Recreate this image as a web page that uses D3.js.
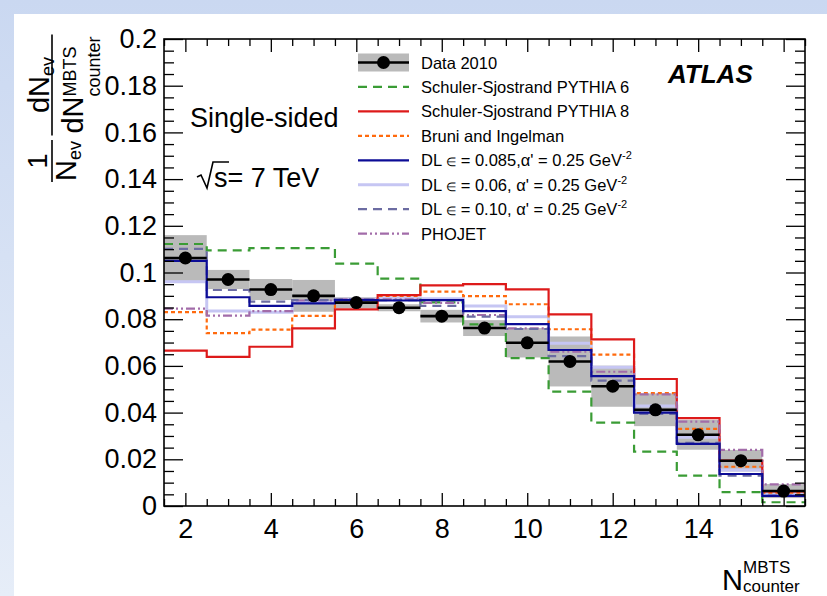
<!DOCTYPE html>
<html>
<head>
<meta charset="utf-8">
<script src="https://cdn.jsdelivr.net/npm/d3@7"></script>
<style>
  body { margin: 0; background: #fff; }
  svg { display: block; font-family: "Liberation Sans", Arial, Helvetica, sans-serif; }
</style>
</head>
<body>
<svg id="chart" width="827" height="596"></svg>
<script>
// MBTS counter multiplicity bins (bin centres, unit width)
const bins = [2, 3, 4, 5, 6, 7, 8, 9, 10, 11, 12, 13, 14, 15, 16];

// Measured distribution and its systematic band (half-height)
const data2010 = [0.1062, 0.0970, 0.0927, 0.0900, 0.0871, 0.0849, 0.0813, 0.0762, 0.0699, 0.0619, 0.0513, 0.0412, 0.0305, 0.0194, 0.0064];
const dataSyst = [0.0098, 0.0041, 0.0045, 0.0068, 0.0023, 0.0015, 0.0027, 0.0034, 0.0063, 0.0107, 0.0088, 0.0070, 0.0064, 0.0046, 0.0030];

// Model predictions
const pythia6 = [0.1122, 0.1095, 0.1104, 0.1104, 0.1038, 0.0974, 0.0872, 0.0778, 0.0633, 0.0490, 0.0357, 0.0233, 0.0130, 0.0059, 0.0016];
const pythia8 = [0.0665, 0.0639, 0.0682, 0.0761, 0.0842, 0.0903, 0.0945, 0.0950, 0.0928, 0.0821, 0.0714, 0.0544, 0.0376, 0.0194, 0.0062];
const bruni   = [0.0830, 0.0740, 0.0755, 0.0814, 0.0870, 0.0900, 0.0918, 0.0899, 0.0864, 0.0757, 0.0648, 0.0483, 0.0330, 0.0168, 0.0057];
const dl085   = [0.1050, 0.0894, 0.0857, 0.0868, 0.0882, 0.0880, 0.0882, 0.0835, 0.0779, 0.0668, 0.0556, 0.0400, 0.0266, 0.0137, 0.0043];
const dl06    = [0.0960, 0.0835, 0.0830, 0.0872, 0.0885, 0.0890, 0.0888, 0.0857, 0.0811, 0.0697, 0.0594, 0.0428, 0.0294, 0.0154, 0.0051];
const dl10    = [0.1101, 0.0925, 0.0875, 0.0882, 0.0885, 0.0882, 0.0857, 0.0811, 0.0758, 0.0642, 0.0537, 0.0394, 0.0270, 0.0130, 0.0045];
const phojet  = [0.0845, 0.0815, 0.0835, 0.0880, 0.0885, 0.0885, 0.0870, 0.0818, 0.0761, 0.0661, 0.0575, 0.0478, 0.0361, 0.0240, 0.0093];

// Axis ticks and labels
const xTickValues = [2, 4, 6, 8, 10, 12, 14, 16];
const xTickLabels = ["2", "4", "6", "8", "10", "12", "14", "16"];
const yTickValues = [0, 0.02, 0.04, 0.06, 0.08, 0.1, 0.12, 0.14, 0.16, 0.18, 0.2];
const yTickLabels = ["0", "0.02", "0.04", "0.06", "0.08", "0.1", "0.12", "0.14", "0.16", "0.18", "0.2"];

// Legend entries; DL entries are split around the epsilon glyph and carry a GeV^-2 unit
const legendLabels = [
  "Data 2010",
  "Schuler-Sjostrand PYTHIA 6",
  "Schuler-Sjostrand PYTHIA 8",
  "Bruni and Ingelman",
  ["DL ", " = 0.085,\u03b1' = 0.25 GeV"],
  ["DL ", " = 0.06, \u03b1' = 0.25 GeV"],
  ["DL ", " = 0.10, \u03b1' = 0.25 GeV"],
  "PHOJET"
];

const W = 827, H = 596;
const svg = d3.select("#chart");
const FONT = "'Liberation Sans', Arial, Helvetica, sans-serif";

// Slide background with white panel
const defs = svg.append("defs");
const grad = defs.append("linearGradient").attr("id", "bg").attr("x1", 0).attr("y1", 0).attr("x2", 0).attr("y2", 1);
grad.append("stop").attr("offset", "0%").attr("stop-color", "#cad8f1");
grad.append("stop").attr("offset", "100%").attr("stop-color", "#e6edf8");
svg.append("rect").attr("width", W).attr("height", H).attr("fill", "url(#bg)");
svg.append("rect").attr("x", 14).attr("y", 14).attr("width", W - 14).attr("height", H - 14).attr("fill", "#fff");

const frame = { l: 164, r: 805, t: 39, b: 506 };
const x = d3.scaleLinear().domain([1.5, 16.5]).range([frame.l, frame.r]);
const y = d3.scaleLinear().domain([0, 0.2]).range([frame.b, frame.t]);

defs.append("clipPath").attr("id", "clipFrame").append("rect")
  .attr("x", frame.l).attr("y", frame.t).attr("width", frame.r - frame.l).attr("height", frame.b - frame.t);

const plot = svg.append("g").attr("clip-path", "url(#clipFrame)");

// Systematic band of the data
plot.selectAll("rect.band").data(bins).join("rect").attr("class", "band")
  .attr("x", d => x(d - 0.5))
  .attr("width", d => x(d + 0.5) - x(d - 0.5))
  .attr("y", (d, i) => y(data2010[i] + dataSyst[i]))
  .attr("height", (d, i) => y(data2010[i] - dataSyst[i]) - y(data2010[i] + dataSyst[i]))
  .attr("fill", "#bababa");

// Model histograms
const series = [
  { v: pythia6, color: "#3a9c35", width: 2.2, dash: "9,6" },
  { v: pythia8, color: "#dd1a1a", width: 2.2, dash: null },
  { v: bruni,   color: "#ff6a0d", width: 2.2, dash: "4,3" },
  { v: dl085,   color: "#0c0c96", width: 2.2, dash: null },
  { v: dl06,    color: "#c6c6f3", width: 3,   dash: null },
  { v: dl10,    color: "#6c6ca2", width: 2.2, dash: "9,6" },
  { v: phojet,  color: "#a26ca9", width: 2.2, dash: "9,3,2,3,2,3" }
];
const drawOrder = [4, 0, 2, 1, 6, 5, 3];
const step = d3.line().x(d => x(d[0])).y(d => y(d[1])).curve(d3.curveStepAfter);
drawOrder.forEach(k => {
  const s = series[k];
  const pts = bins.map((b, i) => [b - 0.5, s.v[i]]);
  pts.push([bins[bins.length - 1] + 0.5, s.v[s.v.length - 1]]);
  plot.append("path").attr("d", step(pts))
    .attr("fill", "none").attr("stroke", s.color).attr("stroke-width", s.width)
    .attr("stroke-dasharray", s.dash);
});

// Data points with bin-width bars
plot.selectAll("line.xerr").data(bins).join("line").attr("class", "xerr")
  .attr("x1", d => x(d - 0.5)).attr("x2", d => x(d + 0.5))
  .attr("y1", (d, i) => y(data2010[i])).attr("y2", (d, i) => y(data2010[i]))
  .attr("stroke", "#000").attr("stroke-width", 2.6);
plot.selectAll("circle.pt").data(bins).join("circle").attr("class", "pt")
  .attr("cx", d => x(d)).attr("cy", (d, i) => y(data2010[i])).attr("r", 6.5).attr("fill", "#000");

// Axes (ticks drawn inward on all four sides)
const xMinor = d3.range(1.5, 16.51, 0.5).filter(v => v % 2 !== 0);
const yMinor = d3.range(0, 0.2001, 0.005).filter((v, i) => i % 4 !== 0);
function styleAxis(g) {
  g.select(".domain").remove();
  g.selectAll("line").attr("stroke", "#000").attr("stroke-width", 1.3);
  g.selectAll("text").attr("font-family", FONT).attr("fill", "#000");
}
svg.append("g").attr("transform", `translate(0,${frame.b})`)
  .call(d3.axisBottom(x).tickValues(xTickValues).tickFormat((d, i) => xTickLabels[i]).tickSize(-13).tickPadding(13))
  .call(styleAxis).call(g => g.selectAll("text").attr("font-size", 27));
svg.append("g").attr("transform", `translate(0,${frame.b})`)
  .call(d3.axisBottom(x).tickValues(xMinor).tickFormat("").tickSize(-7)).call(styleAxis);
svg.append("g").attr("transform", `translate(0,${frame.t})`)
  .call(d3.axisTop(x).tickValues(xTickValues).tickFormat("").tickSize(-13)).call(styleAxis);
svg.append("g").attr("transform", `translate(0,${frame.t})`)
  .call(d3.axisTop(x).tickValues(xMinor).tickFormat("").tickSize(-7)).call(styleAxis);
svg.append("g").attr("transform", `translate(${frame.l},0)`)
  .call(d3.axisLeft(y).tickValues(yTickValues).tickFormat((d, i) => yTickLabels[i]).tickSize(-19).tickPadding(7))
  .call(styleAxis).call(g => g.selectAll("text").attr("font-size", 27));
svg.append("g").attr("transform", `translate(${frame.l},0)`)
  .call(d3.axisLeft(y).tickValues(yMinor).tickFormat("").tickSize(-10)).call(styleAxis);
svg.append("g").attr("transform", `translate(${frame.r},0)`)
  .call(d3.axisRight(y).tickValues(yTickValues).tickFormat("").tickSize(-19)).call(styleAxis);
svg.append("g").attr("transform", `translate(${frame.r},0)`)
  .call(d3.axisRight(y).tickValues(yMinor).tickFormat("").tickSize(-10)).call(styleAxis);

svg.append("rect").attr("x", frame.l).attr("y", frame.t)
  .attr("width", frame.r - frame.l).attr("height", frame.b - frame.t)
  .attr("fill", "none").attr("stroke", "#000").attr("stroke-width", 1.6);

// Legend
const leg = svg.append("g").attr("font-family", FONT).attr("font-size", 16.5);
const rowY = i => 62.5 + i * 24.45;
const symX0 = 358, symX1 = 409;
leg.append("rect").attr("x", symX0).attr("y", rowY(0) - 9).attr("width", symX1 - symX0).attr("height", 18).attr("fill", "#bababa");
leg.append("line").attr("x1", symX0).attr("x2", symX1).attr("y1", rowY(0)).attr("y2", rowY(0)).attr("stroke", "#000").attr("stroke-width", 2.6);
leg.append("circle").attr("cx", (symX0 + symX1) / 2).attr("cy", rowY(0)).attr("r", 6.5).attr("fill", "#000");
series.forEach((s, k) => {
  leg.append("line").attr("x1", symX0).attr("x2", symX1).attr("y1", rowY(k + 1)).attr("y2", rowY(k + 1))
    .attr("stroke", s.color).attr("stroke-width", s.width).attr("stroke-dasharray", s.dash);
});
legendLabels.forEach((t, i) => {
  const txt = leg.append("text").attr("x", 421).attr("y", rowY(i) + 6).attr("fill", "#000");
  if (Array.isArray(t)) {
    txt.append("tspan").text(t[0]);
    txt.append("tspan").attr("font-size", 12).text("\u2208");
    txt.append("tspan").text(t[1]);
    txt.append("tspan").attr("font-size", 11).attr("dy", -7).text("-2");
  } else {
    txt.text(t);
  }
});

// Annotations
svg.append("text").attr("x", 190).attr("y", 127).attr("font-family", FONT).attr("font-size", 27).text("Single-sided");
const rs = svg.append("g").attr("font-family", FONT).attr("font-size", 27);
rs.append("path").attr("d", "M197,177 L201,175 L207,188 L213,162 L229,162")
  .attr("fill", "none").attr("stroke", "#000").attr("stroke-width", 1.6);
rs.append("text").attr("x", 214).attr("y", 187).text("s= 7 TeV");
svg.append("text").attr("x", 668).attr("y", 83).attr("font-family", FONT).attr("font-size", 26)
  .attr("font-weight", "bold").attr("font-style", "italic").text("ATLAS");

// X-axis title
const xt = svg.append("g").attr("font-family", FONT);
xt.append("text").attr("x", 722).attr("y", 590).attr("font-size", 29).text("N");
xt.append("text").attr("x", 743).attr("y", 573).attr("font-size", 17).text("MBTS");
xt.append("text").attr("x", 743).attr("y", 592).attr("font-size", 17).text("counter");

// Y-axis title, rotated: local x = -screenY, local y = screenX
const yt = svg.append("g").attr("transform", "rotate(-90)").attr("font-family", FONT);
// 1 / N_ev
const c1 = -161;
yt.append("text").attr("x", c1).attr("y", 47).attr("text-anchor", "middle").attr("font-size", 27).text("1");
yt.append("line").attr("x1", c1 - 21).attr("x2", c1 + 21).attr("y1", 52).attr("y2", 52).attr("stroke", "#000").attr("stroke-width", 1.6);
const nev = yt.append("text").attr("x", c1).attr("y", 76).attr("text-anchor", "middle").attr("font-size", 29);
nev.append("tspan").text("N");
nev.append("tspan").attr("font-size", 18).attr("dy", 5).text("ev");
// dN_ev / dN^MBTS_counter
const c2 = -85;
const num = yt.append("text").attr("x", c2).attr("y", 49).attr("text-anchor", "middle").attr("font-size", 29);
num.append("tspan").text("dN");
num.append("tspan").attr("font-size", 18).attr("dy", 5).text("ev");
const dN = yt.append("text").attr("y", 83).attr("font-size", 29).text("dN");
const sup = yt.append("text").attr("y", 76).attr("font-size", 18).text("MBTS");
const sub = yt.append("text").attr("y", 100).attr("font-size", 18).text("counter");
const wdN = dN.node().getComputedTextLength();
const wSS = Math.max(sup.node().getComputedTextLength(), sub.node().getComputedTextLength());
const start = c2 - (wdN + wSS) / 2;
dN.attr("x", start);
sup.attr("x", start + wdN);
sub.attr("x", start + wdN);
const half = (wdN + wSS) / 2 + 2;
yt.append("line").attr("x1", c2 - half).attr("x2", c2 + half).attr("y1", 52).attr("y2", 52).attr("stroke", "#000").attr("stroke-width", 1.6);
</script>
</body>
</html>
